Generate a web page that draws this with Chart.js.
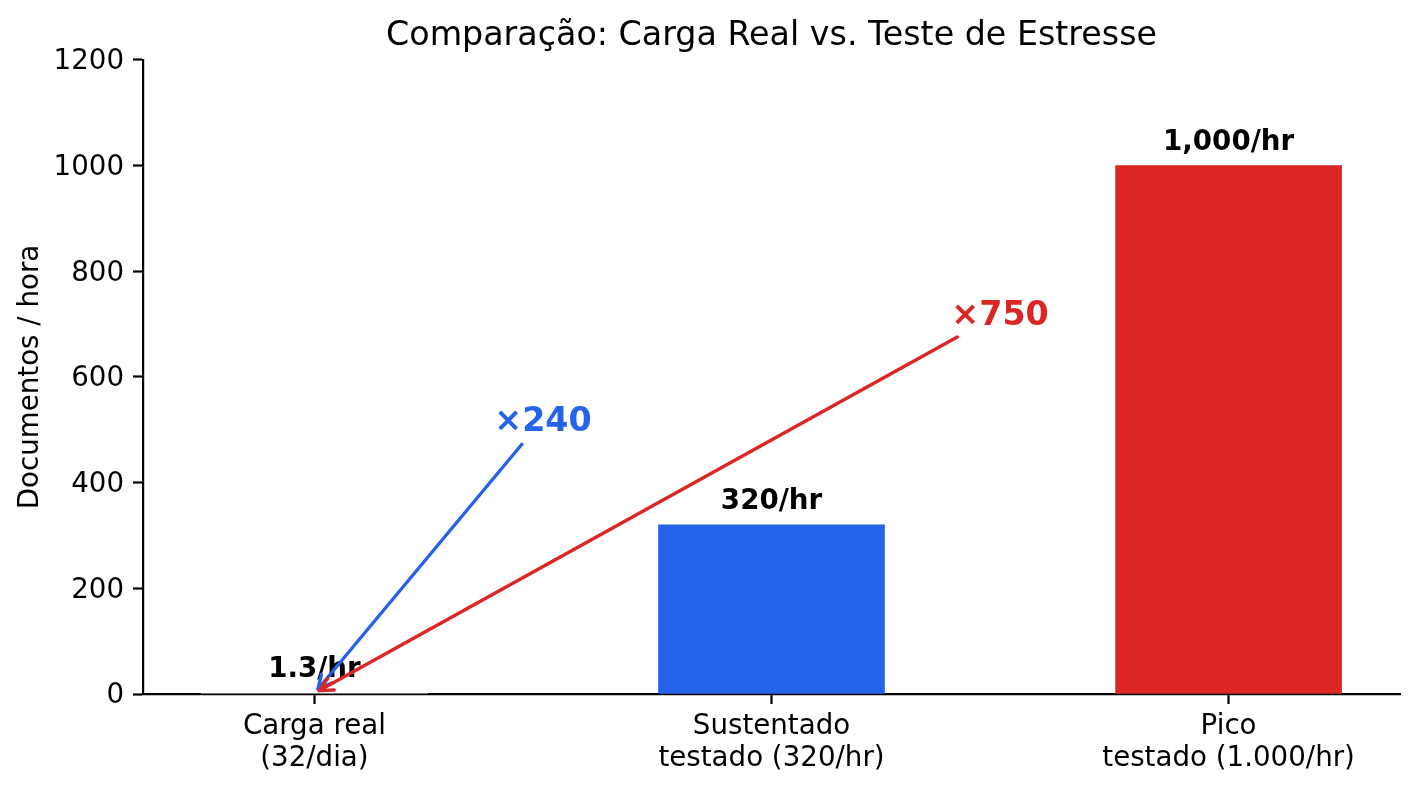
<!DOCTYPE html>
<html>
<head>
<meta charset="utf-8">
<script src="https://cdn.jsdelivr.net/npm/chart.js@4.4.1/dist/chart.umd.min.js"></script>
<style>
  html, body { margin: 0; padding: 0; background: #ffffff; }
  #wrap { width: 1418px; height: 790px; }
</style>
</head>
<body>
<div id="wrap"><canvas id="c" width="1418" height="790"></canvas></div>
<script>
// ---- data ----
const categoryLabels = [
  ['Carga real', '(32/dia)'],
  ['Sustentado', 'testado (320/hr)'],
  ['Pico', 'testado (1.000/hr)']
];
const values = [1.3, 320, 1000];
const valueLabels = ['1.3/hr', '320/hr', '1,000/hr'];
const barColors = ['#9ca3af', '#2563eb', '#dc2626'];
const yTicks = [0, 200, 400, 600, 800, 1000, 1200];

// annotations (text anchor in data coordinates, arrow points to first bar)
const annotTexts = ['×240', '×750'];
const annotX = [0.5, 1.5];
const annotY = [500, 700];
const annotColors = ['#2563eb', '#dc2626'];
const arrowTargetIndex = 0;

const FONT = "'DejaVu Sans', 'Liberation Sans', sans-serif";
const TICK_PX = 27.7;
const TITLE_PX = 33.3;

const overlay = {
  id: 'overlay',
  afterDatasetsDraw(chart) {
    const ctx = chart.ctx;
    const xs = chart.scales.x, ys = chart.scales.y;
    ctx.save();
    // value labels
    ctx.font = 'bold ' + TICK_PX + 'px ' + FONT;
    ctx.fillStyle = '#000';
    ctx.textAlign = 'center';
    ctx.textBaseline = 'alphabetic';
    values.forEach((v, i) => {
      ctx.fillText(valueLabels[i], xs.getPixelForValue(i), ys.getPixelForValue(v) - 16);
    });
    // annotations
    const tx = xs.getPixelForValue(arrowTargetIndex);
    const ty = ys.getPixelForValue(values[arrowTargetIndex]);
    ctx.font = 'bold ' + TITLE_PX + 'px ' + FONT;
    annotTexts.forEach((t, i) => {
      const px = xs.getPixelForValue(annotX[i]);
      const base = ys.getPixelForValue(annotY[i]) + 1;
      ctx.fillStyle = annotColors[i];
      ctx.textAlign = 'center';
      ctx.textBaseline = 'alphabetic';
      ctx.fillText(t, px, base);
      const w = ctx.measureText(t).width;
      const cx = px, cy = base - 0.355 * TITLE_PX;
      const hw = w / 2, hh = 0.63 * TITLE_PX;
      const dx = tx - cx, dy = ty - cy;
      const len = Math.hypot(dx, dy);
      const ux = dx / len, uy = dy / len;
      const tEdge = Math.min(hw / Math.abs(dx), hh / Math.abs(dy));
      const shrink = 5.6;
      const sx = cx + dx * tEdge + ux * shrink;
      const sy = cy + dy * tEdge + uy * shrink;
      const ex = tx - ux * shrink, ey = ty - uy * shrink;
      ctx.strokeStyle = annotColors[i];
      ctx.lineWidth = 3.4;
      ctx.lineCap = 'round';
      ctx.lineJoin = 'round';
      ctx.beginPath();
      ctx.moveTo(sx, sy);
      ctx.lineTo(ex, ey);
      ctx.stroke();
      const L = 0.4 * TITLE_PX, W = 0.2 * TITLE_PX;
      const nx = -uy, ny = ux;
      ctx.beginPath();
      ctx.moveTo(ex - ux * L + nx * W, ey - uy * L + ny * W);
      ctx.lineTo(ex, ey);
      ctx.lineTo(ex - ux * L - nx * W, ey - uy * L - ny * W);
      ctx.stroke();
    });
    ctx.restore();
  }
};

new Chart(document.getElementById('c'), {
  type: 'bar',
  data: {
    datasets: [{
      data: values.map((v, i) => ({ x: i, y: v })),
      backgroundColor: barColors,
      borderWidth: 0,
      barThickness: 226
    }]
  },
  options: {
    responsive: false,
    animation: false,
    devicePixelRatio: 1,
    layout: { padding: { left: 0, right: 18, top: 0, bottom: 0 } },
    plugins: {
      legend: { display: false },
      tooltip: { enabled: false },
      title: {
        display: true,
        fullSize: false,
        text: 'Comparação: Carga Real vs. Teste de Estresse',
        color: '#000',
        font: { family: FONT, size: TITLE_PX, weight: 'normal', lineHeight: 1.2 },
        padding: { top: 16, bottom: 4 }
      }
    },
    scales: {
      x: {
        type: 'linear',
        offset: false,
        min: -0.375,
        max: 2.375,
        afterBuildTicks(scale) {
          scale.ticks = categoryLabels.map((_, i) => ({ value: i }));
        },
        afterFit(scale) { scale.height = 96; },
        grid: { display: true, offset: false, drawOnChartArea: false, drawTicks: true, tickLength: 10, tickWidth: 2.2, tickColor: '#000' },
        border: { display: true, color: '#000', width: 2.2 },
        ticks: {
          autoSkip: false,
          maxRotation: 0,
          padding: 7,
          color: '#000',
          font: { family: FONT, size: TICK_PX, lineHeight: 1.16 },
          callback: (v) => categoryLabels[v]
        }
      },
      y: {
        type: 'linear',
        min: 0,
        max: 1200,
        afterBuildTicks(scale) {
          scale.ticks = yTicks.map(v => ({ value: v }));
        },
        afterFit(scale) { scale.width = 143; },
        grid: { display: true, drawOnChartArea: false, drawTicks: true, tickLength: 10, tickWidth: 2.2, tickColor: '#000' },
        border: { display: true, color: '#000', width: 2.2 },
        ticks: {
          padding: 9,
          labelOffset: 2,
          color: '#000',
          font: { family: FONT, size: TICK_PX },
          callback: (v) => String(v)
        },
        title: {
          display: true,
          text: 'Documentos / hora',
          color: '#000',
          font: { family: FONT, size: TICK_PX, lineHeight: 1.2 },
          padding: { top: 14, bottom: 0 }
        }
      }
    }
  },
  plugins: [overlay]
});
</script>
</body>
</html>
